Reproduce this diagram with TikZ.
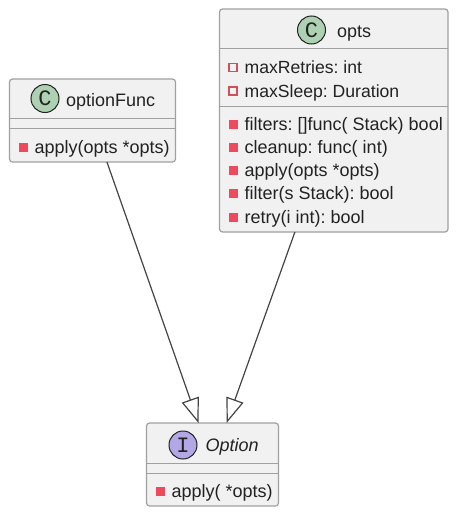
\documentclass[tikz,border=0pt]{standalone}
\usepackage{fontspec}
\setmainfont{Liberation Sans}
\newfontfamily\glyphfont{Liberation Mono}
\usetikzlibrary{arrows.meta,calc}
\definecolor{boxfill}{HTML}{F1F1F1}
\definecolor{boxline}{HTML}{A0A0A0}
\definecolor{ink}{HTML}{222222}
\definecolor{wire}{HTML}{444444}
\definecolor{vis}{HTML}{EE4A5E}
\definecolor{visline}{HTML}{D0505F}
\definecolor{classgreen}{HTML}{ADD1B2}
\definecolor{ifacepurple}{HTML}{B4A7E5}
\tikzset{
  x=1pt,y=-1pt,
  umlbox/.style={draw=boxline,fill=boxfill,line width=1.2pt,rounded corners=3pt,inner sep=0pt,outer sep=0pt,anchor=north west},
  divider/.style={draw=boxline,line width=1pt},
  badge/.style={circle,draw=ink,line width=1pt,minimum size=28pt,inner sep=0pt,font=\glyphfont\fontsize{22}{22}\selectfont,text=ink},
  title/.style={anchor=base west,inner sep=0pt,text=ink,font=\fontsize{18}{20}\selectfont},
  member/.style={anchor=base west,inner sep=0pt,text=ink,font=\fontsize{18}{20}\selectfont},
  attr/.style={member,font=\fontsize{17.6}{20}\selectfont},
  method/.style={rectangle,fill=vis,draw=vis,line width=0.5pt,minimum size=8pt,inner sep=0pt},
  field/.style={rectangle,fill=boxfill,draw=visline,line width=1.2pt,minimum size=8pt,inner sep=0pt},
  realize/.style={draw=wire,line width=1.2pt,-{Triangle[open,length=24.8pt,width=17.9pt,line width=1.2pt,fill=white]}},
}
\begin{document}
\begin{tikzpicture}
\useasboundingbox (0,0) rectangle (462,522);
\fill[white] (0,0) rectangle (462,522);

% optionFunc
\node[umlbox,minimum width=166pt,minimum height=83pt] (optionFunc) at (9.5,79) {};
\draw[divider] (9.5,118) -- (175.5,118) (9.5,128) -- (175.5,128);
\node[badge,fill=classgreen] (optionFuncBadge) at (45,98.5) {C};
\node[title] (optionFuncName) at (66,106) {\frenchspacing optionFunc};
\node[method] (ofIconA) at (23,147) {};
\node[member] (ofApply) at (34.5,153) {\frenchspacing apply(opts *opts)};

% opts
\node[umlbox,minimum width=228.5pt,minimum height=223pt] (opts) at (219.5,9) {};
\draw[divider] (219.5,48.5) -- (448,48.5) (219.5,106) -- (448,106);
\node[badge,fill=classgreen] (optsBadge) at (311.5,30) {C};
\node[title] (optsName) at (337,37) {opts};
\node[field] (optsIconA) at (233,67.5) {};
\node[attr] (optsRetries) at (244.5,73.5) {\frenchspacing maxRetries: int};
\node[field] (optsIconB) at (233,91) {};
\node[attr] (optsSleep) at (244.5,97) {\frenchspacing maxSleep: Duration};
\node[method] (optsIconC) at (233,124) {};
\node[member] (optsFilters) at (244.5,130) {\frenchspacing filters: []func( Stack) bool};
\node[method] (optsIconD) at (233,147) {};
\node[member] (optsCleanup) at (244.5,153) {\frenchspacing cleanup: func( int)};
\node[method] (optsIconE) at (233,170.5) {};
\node[member] (optsApply) at (244.5,176.5) {\frenchspacing apply(opts *opts)};
\node[method] (optsIconF) at (233,193.5) {};
\node[member] (optsFilter) at (244.5,199.5) {\frenchspacing filter(s Stack): bool};
\node[method] (optsIconG) at (233,217) {};
\node[member] (optsRetry) at (244.5,223) {\frenchspacing retry(i int): bool};

% Option
\node[umlbox,minimum width=132pt,minimum height=83pt] (option) at (146.5,423) {};
\draw[divider] (146.5,463) -- (278.5,463) (146.5,473) -- (278.5,473);
\node[badge,fill=ifacepurple] (optionBadge) at (183,445) {I};
\node[title,font=\itshape\fontsize{18}{20}\selectfont] (optionName) at (205.5,451) {Option};
\node[method] (optionIcon) at (160,491.5) {};
\node[member] (optionApply) at (171.5,497.5) {\frenchspacing apply( *opts)};

% connectors
\draw[realize] ($(optionFunc.south west)!0.587!(optionFunc.south east)$) -- ($(option.north west)!0.394!(option.north east)$);
\draw[realize] ($(opts.south west)!0.33!(opts.south east)$) -- ($(option.north west)!0.607!(option.north east)$);
\end{tikzpicture}
\end{document}
